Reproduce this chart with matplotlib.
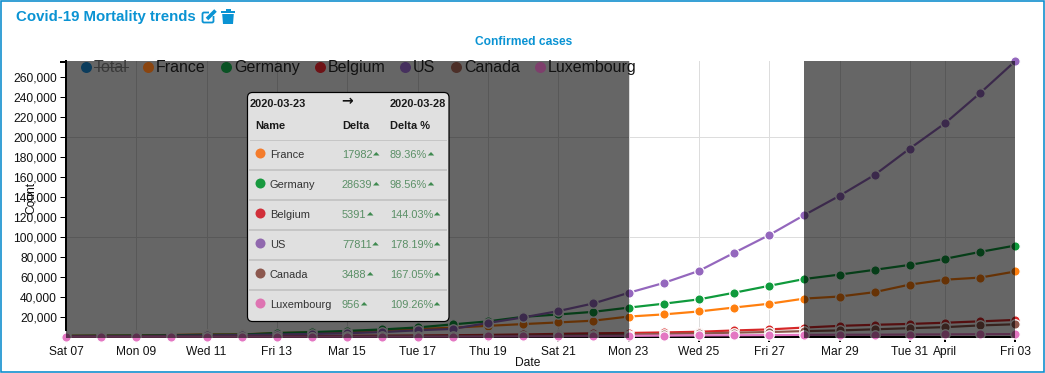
#!/usr/bin/env python3
"""Covid-19 mortality trends widget: confirmed cases with brushed selection."""
import matplotlib as mpl
mpl.use("Agg")
import matplotlib.dates as mdates
import matplotlib.pyplot as plt
import pandas as pd
from matplotlib.patches import FancyBboxPatch, Polygon, Rectangle

mpl.rcParams.update({
    "font.family": ["Liberation Sans", "DejaVu Sans"],
})

DATES = pd.date_range("2020-03-07", "2020-04-03")
FRANCE = [949, 1126, 1209, 1784, 2281, 2281, 3661, 4469, 4499, 6633, 7652, 9043, 10871, 12612,
          14282, 16018, 20123, 22304, 25233, 29155, 32964, 38105, 40174, 44550, 52128, 56989, 59105, 65202]
GERMANY = [799, 1040, 1176, 1457, 1908, 2078, 3675, 4585, 5795, 7272, 9257, 12327, 15320, 19848,
           22213, 24873, 29056, 32986, 37323, 43938, 50871, 57695, 62095, 66885, 71808, 77872, 84794, 91159]
BELGIUM = [169, 200, 239, 267, 314, 314, 559, 689, 886, 1058, 1243, 1486, 1795, 2257,
           2815, 3401, 3743, 4269, 4937, 6235, 7284, 9134, 10836, 11899, 12775, 13964, 15348, 16770]
US = [402, 518, 583, 959, 1281, 1663, 2179, 2727, 3499, 4632, 6421, 7783, 13747, 19273,
      25600, 33276, 43847, 53740, 65778, 83836, 101657, 121658, 140886, 161807, 188172, 213372, 243616, 275586]
CANADA = [57, 62, 77, 79, 108, 117, 193, 198, 252, 415, 478, 657, 800, 943,
          1277, 1469, 2088, 2790, 3251, 4042, 4682, 5576, 6280, 7398, 8527, 9560, 11284, 12437]
LUXEMBOURG = [3, 3, 3, 3, 7, 7, 26, 34, 51, 59, 77, 140, 203, 335,
              484, 670, 875, 1099, 1333, 1453, 1605, 1831, 1950, 1988, 2178, 2319, 2487, 2612]

NAMES = ["France", "Germany", "Belgium", "US", "Canada", "Luxembourg"]
SERIES = [FRANCE, GERMANY, BELGIUM, US, CANADA, LUXEMBOURG]
COLORS = ["#ff7f0e", "#0f9a3c", "#d62728", "#9467bd", "#8c564b", "#e377c2"]

Y_TICKS = list(range(20000, 260001, 20000))
Y_GRID = [100000, 200000]
X_TICKS = ["2020-03-07", "2020-03-09", "2020-03-11", "2020-03-13", "2020-03-15", "2020-03-17",
           "2020-03-19", "2020-03-21", "2020-03-23", "2020-03-25", "2020-03-27", "2020-03-29",
           "2020-03-31", "2020-04-01", "2020-04-03"]
X_LABELS = ["Sat 07", "Mon 09", "Wed 11", "Fri 13", "Mar 15", "Tue 17", "Thu 19", "Sat 21",
            "Mon 23", "Wed 25", "Fri 27", "Mar 29", "Tue 31", "April", "Fri 03"]

LEGEND_NAMES = ["Total", "France", "Germany", "Belgium", "US", "Canada", "Luxembourg"]
LEGEND_COLORS = ["#0c3c5c", "#8a4510", "#0a5224", "#6e1216", "#46305e", "#4c2f28", "#7e3f6c"]

TIP_FROM, TIP_TO = "2020-03-23", "2020-03-28"
TIP_DELTA = ["17982", "28639", "5391", "77811", "3488", "956"]
TIP_PCT = ["89.36%", "98.56%", "144.03%", "178.19%", "167.05%", "109.26%"]
TIP_COLORS = ["#f47c2c", "#18993f", "#d1303a", "#9068ae", "#8c584e", "#de74b2"]

W, H = 1045, 373
BLUE = "#0a93d3"
px = 72 / 100  # one pixel in points


def main():
    fig = plt.figure(figsize=(W / 100, H / 100), dpi=100)
    ax = fig.add_axes([66 / W, 1 - 336.7 / H, (1015.3 - 66) / W, (336.7 - 61.1) / H])
    ax.set_facecolor("none")

    ax.set_xlim(DATES[0], DATES[-1])
    ax.set_ylim(0, 275586)

    ticks = pd.to_datetime(X_TICKS)
    ax.set_xticks(mdates.date2num(ticks))
    ax.set_xticklabels(X_LABELS, fontsize=12 * px, color="#111")
    ax.set_yticks(Y_TICKS)
    ax.set_yticklabels([f"{v:,}" for v in Y_TICKS], fontsize=12 * px, color="#111")
    ax.tick_params(axis="x", length=5 * px, width=2 * px, pad=4.3 * px)
    ax.tick_params(axis="y", length=6 * px, width=1 * px, pad=3 * px)
    for s in ("top", "right"):
        ax.spines[s].set_visible(False)
    for s in ("left", "bottom"):
        ax.spines[s].set_linewidth(2 * px)

    for d in ticks:
        ax.axvline(d, color="#ddd", lw=1 * px, zorder=1)
    for v in Y_GRID:
        ax.axhline(v, color="#ddd", lw=1 * px, zorder=1)

    for i, (vals, color) in enumerate(zip(SERIES, COLORS)):
        ax.plot(DATES, vals, color=color, lw=2.2 * px, marker="o", ms=9.4 * px, mfc=color,
                mec="white", mew=1.3 * px, clip_on=False, zorder=3 + i * 0.1)

    # the two greyed-out parts either side of the selected range
    for a, b in ((DATES[0], pd.Timestamp(TIP_FROM)), (pd.Timestamp(TIP_TO), DATES[-1])):
        ax.axvspan(a, b, ymin=-0.003, ymax=1, facecolor="black", alpha=0.6, lw=0, zorder=4, clip_on=False)

    # everything else sits on a pixel-sized layer above the chart
    ov = fig.add_axes([0, 0, 1, 1], zorder=5)
    ov.set_xlim(0, W)
    ov.set_ylim(H, 0)
    ov.axis("off")

    ov.add_patch(Rectangle((0.8, 1.2), W - 1.6, 370.8, fill=False, ec="#0a8ccc", lw=1.6 * px))
    ov.plot([60, 66], [61.5, 61.5], color="black", lw=2 * px, solid_capstyle="butt")

    ov.text(16, 17, "Covid-19 Mortality trends", fontsize=15 * px, fontweight="bold", color=BLUE, va="center")
    ov.text(523.5, 42, "Confirmed cases", fontsize=12 * px, fontweight="bold", color=BLUE, ha="center", va="center")
    ov.text(31, 198, "Count", fontsize=12 * px, rotation=90, ha="center", va="center", color="#111")
    ov.text(528, 363.5, "Date", fontsize=12 * px, ha="center", va="center", color="#111")

    # edit icon
    ov.add_patch(FancyBboxPatch((202.5, 12.5), 11, 10, boxstyle="round,pad=0,rounding_size=1.5",
                                fill=False, ec=BLUE, lw=1.8 * px))
    ov.add_patch(Rectangle((209, 10), 8, 5.5, color="white", lw=0))
    ov.plot([207, 215.5], [19, 10.5], color=BLUE, lw=3.6 * px, solid_capstyle="butt")
    # trash icon
    ov.add_patch(Rectangle((221, 11), 14, 2, color=BLUE, lw=0))
    ov.add_patch(Rectangle((225.5, 9.2), 5, 2, color=BLUE, lw=0))
    ov.add_patch(Polygon([(222.2, 14), (233.8, 14), (233, 24), (223, 24)], color=BLUE, lw=0))

    # legend
    circle_x = [86, 148, 226, 320, 405, 456, 540]
    for name, color, cx in zip(LEGEND_NAMES, LEGEND_COLORS, circle_x):
        ov.plot([cx], [66.5], "o", color=color, ms=11 * px, mew=0)
        ov.text(cx + 8, 72, name, fontsize=16 * px, va="baseline",
                color="#3a3a3a" if name == "Total" else "#111")
        if name == "Total":
            ov.plot([cx + 8, cx + 42], [67, 67], color="#3a3a3a", lw=1 * px)

    # tooltip
    ov.add_patch(FancyBboxPatch((247.5, 92.5), 201.5, 229, boxstyle="round,pad=0,rounding_size=5",
                                fc="#e0e0e0", ec="black", lw=1.2 * px, zorder=6))
    hdr = dict(fontsize=11 * px, fontweight="bold", va="baseline", color="#1a1a1a", zorder=7)
    ov.text(250, 107, TIP_FROM, **hdr)
    ov.text(347, 101, "→", fontsize=14 * px, fontweight="bold", ha="center", va="center",
            family="DejaVu Sans", color="#111", zorder=7)
    ov.text(446, 107, TIP_TO, ha="right", **hdr)
    ov.text(255, 129, "Name", **hdr)
    ov.text(342, 129, "Delta", **hdr)
    ov.text(390, 129, "Delta %", **hdr)
    ov.plot([250, 446], [139.5, 139.5], color="#c6c6c6", lw=1 * px, zorder=7)

    green = "#5a8f66"
    row_texts = []
    for i, name in enumerate(NAMES):
        y = 154 + 30 * i
        if i < 5:
            ov.plot([250, 446], [y + 15.5, y + 15.5], color="#c6c6c6", lw=2 * px, zorder=7)
        ov.plot([260], [y - 1], "o", color=TIP_COLORS[i], ms=10 * px, mew=0, zorder=7)
        ov.text(270, y + 4, name, fontsize=11 * px, va="baseline", color="#333", zorder=7)
        d = ov.text(342, y + 4, TIP_DELTA[i], fontsize=11 * px, va="baseline", color=green, zorder=7)
        p = ov.text(390, y + 4, TIP_PCT[i], fontsize=11 * px, va="baseline", color=green, zorder=7)
        row_texts += [(d, y), (p, y)]

    # little up-triangles right after each delta
    fig.canvas.draw()
    for t, y in row_texts:
        x0 = t.get_window_extent().x1
        ov.add_patch(Polygon([(x0 + 0.5, y + 1.5), (x0 + 7, y + 1.5), (x0 + 3.75, y - 2)],
                             color="#3f8a50", lw=0, zorder=7))

    fig.savefig("out.png", dpi=100)
    plt.close(fig)


if __name__ == "__main__":
    main()
